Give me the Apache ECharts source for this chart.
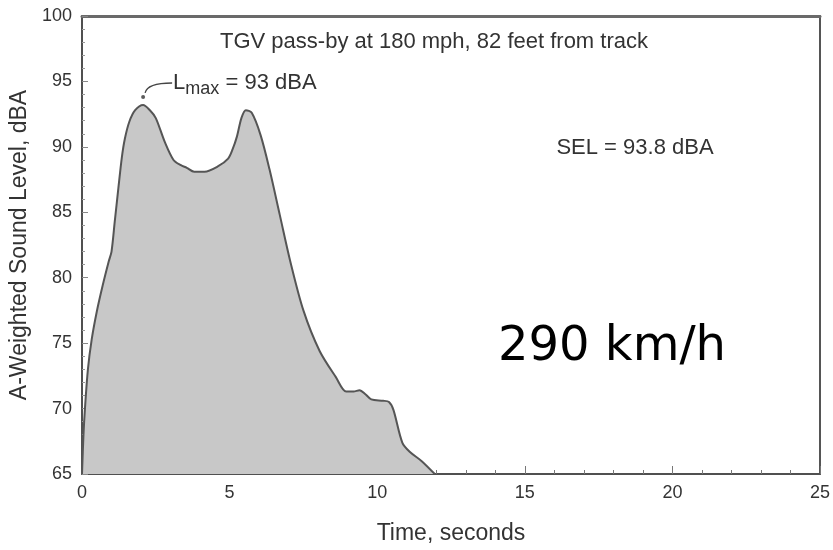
<!DOCTYPE html>
<html><head><meta charset="utf-8">
<script src="https://cdn.jsdelivr.net/npm/echarts@6/dist/echarts.min.js"></script>
<style>html,body{margin:0;padding:0;background:#fff}#c{width:833px;height:550px}</style>
</head><body><div id="c"></div>
<script>
const times  = [0, 0.05, 0.1, 0.2, 0.33, 0.5, 0.7, 0.9, 1.0, 1.11, 1.23, 1.35, 1.45, 1.6, 1.8, 2.07, 2.3, 2.5, 2.8, 3.1, 3.35, 3.55, 3.8, 4.15, 4.6, 4.95, 5.1, 5.25, 5.4, 5.55, 5.75, 6.05, 6.35, 6.7, 7.05, 7.5, 8.05, 8.6, 8.95, 9.2, 9.4, 9.6, 9.8, 10.2, 10.4, 10.55, 10.85, 11.1, 11.5, 11.95];
const levels = [65, 68, 70, 73, 75.3, 77.4, 79.4, 81.2, 82.0, 84.3, 86.8, 89.2, 90.6, 91.9, 92.8, 93.2, 92.8, 92.2, 90.4, 89.0, 88.6, 88.4, 88.1, 88.1, 88.5, 89.1, 89.8, 90.8, 92.2, 92.8, 92.6, 90.9, 88.3, 84.8, 81.3, 77.5, 74.4, 72.4, 71.3, 71.3, 71.4, 71.1, 70.7, 70.6, 70.5, 69.9, 67.4, 66.7, 66.0, 65];
const xTicks = [0, 5, 10, 15, 20, 25];
const yTicks = [65, 70, 75, 80, 85, 90, 95, 100];
const peak = [2.07, 93.2];
const titleText = 'TGV pass-by at 180 mph, 82 feet from track';
const selText = 'SEL = 93.8 dBA';
const speedText = '290 km/h';

const data = times.map((t, i) => [t, levels[i]]);
const chart = echarts.init(document.getElementById('c'));
const textCol = '#333';
const axisCol = '#505050';
const font = 'Liberation Sans, Arial, sans-serif';

chart.setOption({
  animation: false,
  grid: {left: 82, right: 11, top: 16, bottom: 72},
  xAxis: [{
    type: 'value', min: xTicks[0], max: xTicks[xTicks.length-1], interval: 5,
    name: 'Time, seconds', nameLocation: 'middle', nameGap: 48,
    nameTextStyle: {fontFamily: font, fontSize: 23, color: textCol},
    axisLine: {show: true, lineStyle: {color: axisCol, width: 2}},
    axisTick: {show: true, inside: true, length: 8, lineStyle: {color: '#777', width: 1}},
    minorTick: {show: true, splitNumber: 5, length: 4, lineStyle: {color: '#777'}},
    splitLine: {show: false},
    axisLabel: {fontFamily: font, fontSize: 18, color: textCol, margin: 10}
  }, {
    type: 'value', position: 'top', min: 0, max: 25,
    axisLine: {show: true, onZero: false, lineStyle: {color: '#6a6a6a', width: 3}},
    axisTick: {show: false}, axisLabel: {show: false}, splitLine: {show: false}
  }],
  yAxis: [{
    type: 'value', min: yTicks[0], max: yTicks[yTicks.length-1], interval: 5,
    name: 'A-Weighted Sound Level, dBA', nameLocation: 'middle', nameGap: 46, nameRotate: 90,
    nameTextStyle: {fontFamily: font, fontSize: 23, color: textCol},
    axisLine: {show: true, onZero: false, lineStyle: {color: axisCol, width: 2}},
    axisTick: {show: true, inside: true, length: 6, lineStyle: {color: '#888'}},
    minorTick: {show: true, splitNumber: 5, length: 3, lineStyle: {color: '#999'}},
    splitLine: {show: false},
    axisLabel: {fontFamily: font, fontSize: 18, color: textCol, margin: 10}
  }, {
    type: 'value', position: 'right', min: 65, max: 100,
    axisLine: {show: true, onZero: false, lineStyle: {color: '#555', width: 2}},
    axisTick: {show: false}, axisLabel: {show: false}, splitLine: {show: false}
  }],
  series: [{
    type: 'line', data: data, smooth: 0.3, symbol: 'none',
    lineStyle: {color: '#555', width: 2},
    areaStyle: {color: '#c8c8c8', opacity: 1, origin: 'start'},
    z: 1
  }, {
    type: 'scatter', data: [peak], symbol: 'circle', symbolSize: 4, symbolOffset: [0, -8],
    itemStyle: {color: '#333'}, z: 3
  }]
});

const p = chart.convertToPixel({xAxisIndex: 0, yAxisIndex: 0}, peak);
const g = [];
g.push({type: 'bezierCurve', shape: {x1: p[0] + 2, y1: p[1] - 12, cpx1: p[0] + 4, cpy1: p[1] - 22, x2: p[0] + 29, y2: p[1] - 22},
  style: {stroke: '#444', lineWidth: 1.3, fill: null}, z: 10});
g.push({type: 'text', left: p[0] + 30, top: p[1] - 33, z: 10,
  style: {text: '{a|L}{b|max}{a| = 93 dBA}', rich: {
    a: {fontFamily: font, fontSize: 22, fill: textCol, verticalAlign: 'top'},
    b: {fontFamily: font, fontSize: 18, fill: textCol, padding: [8,0,0,0], verticalAlign: 'top'}
  }}});
g.push({type: 'text', x: 434, y: 42, z: 10, style: {text: titleText, font: '22px ' + font, fill: textCol, align: 'center', verticalAlign: 'middle'}});
g.push({type: 'text', x: 635, y: 148, z: 10, style: {text: selText, font: '22px ' + font, fill: textCol, align: 'center', verticalAlign: 'middle'}});
g.push({type: 'text', x: 612, y: 348, z: 10, style: {text: speedText, font: '48px DejaVu Sans', fill: '#000', align: 'center', verticalAlign: 'middle'}});
chart.setOption({graphic: g});
</script></body></html>
